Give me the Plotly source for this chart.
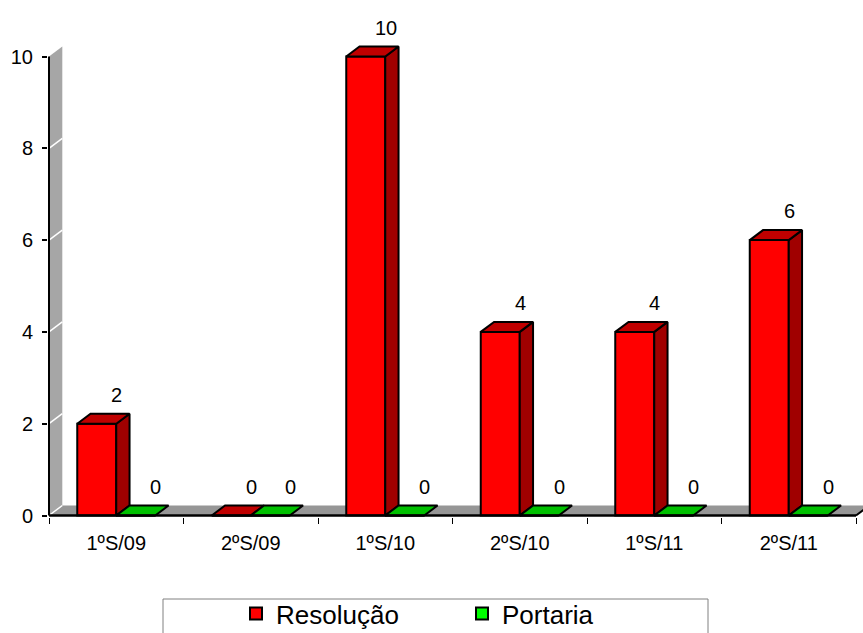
import plotly.graph_objects as go

# ---- data ----
categories = ["1ºS/09", "2ºS/09", "1ºS/10", "2ºS/10", "1ºS/11", "2ºS/11"]
resolucao = [2, 0, 10, 4, 4, 6]
portaria = [0, 0, 0, 0, 0, 0]
y_ticks = [0, 2, 4, 6, 8, 10]

# ---- geometry / styles ----
W, H = 863, 633
ML, MR, MT, MB = 48, 0, 36, 116
PX_X = 134.5          # pixels per category
PX_Y = 45.9           # pixels per unit value
DX = 13.3 / PX_X      # depth offset (x) in data units
DY = 10.0 / PX_Y      # depth offset (y) in data units
BAR_W = 0.29
FONT = "Liberation Sans, Arial, sans-serif"

plot_w = W - ML - MR
plot_h = H - MT - MB
x_start = -0.5 - 1.0 / PX_X
x_end = x_start + plot_w / PX_X
y_start = -1.5 / PX_Y
y_end = y_start + plot_h / PX_Y

series = [
    dict(name="Resolução", values=resolucao, offset=-BAR_W,
         front="#FF0000", top="#C00000", side="#A00000"),
    dict(name="Portaria", values=portaria, offset=0.0,
         front="#00FF00", top="#00C000", side="#00A000"),
]
xs = list(range(len(categories)))

fig = go.Figure()

# front faces as real bars
for s in series:
    fig.add_trace(go.Bar(
        x=xs, y=s["values"], width=BAR_W, offset=s["offset"], name=s["name"],
        marker=dict(color=s["front"], line=dict(color="black", width=2)),
        hoverinfo="skip",
    ))

# top and side faces
for s in series:
    tx, ty, sx, sy = [], [], [], []
    for xi, v in zip(xs, s["values"]):
        L = xi + s["offset"]
        R = L + BAR_W
        tx += [L, R, R + DX, L + DX, L, None]
        ty += [v, v, v + DY, v + DY, v, None]
        if v > 0:
            sx += [R, R + DX, R + DX, R, R, None]
            sy += [0, DY, v + DY, v, 0, None]
    if sx:
        fig.add_trace(go.Scatter(x=sx, y=sy, mode="lines", fill="toself",
                                 fillcolor=s["side"], line=dict(color="black", width=2),
                                 showlegend=False, hoverinfo="skip"))
    fig.add_trace(go.Scatter(x=tx, y=ty, mode="lines", fill="toself",
                             fillcolor=s["top"], line=dict(color="black", width=2),
                             showlegend=False, hoverinfo="skip"))

# data labels
for s in series:
    for xi, v in zip(xs, s["values"]):
        fig.add_annotation(x=xi + s["offset"] + BAR_W / 2, y=v, text=str(v),
                           showarrow=False, xshift=20, yshift=29, yanchor="middle",
                           font=dict(family=FONT, size=20, color="black"))

x0 = -0.5
xend = len(categories) - 0.5
ymax = y_ticks[-1]
shapes = []
# left wall
shapes.append(dict(type="path", layer="below", xref="x", yref="y",
                   path=f"M {x0},0 L {x0},{ymax} L {x0+DX},{ymax+DY} L {x0+DX},{DY} Z",
                   fillcolor="#A6A6A6", line=dict(width=0)))
# floor
shapes.append(dict(type="path", layer="below", xref="x", yref="y",
                   path=f"M {x0},0 L {xend},0 L {xend+DX},{DY} L {x0+DX},{DY} Z",
                   fillcolor="#969696", line=dict(width=0)))
# gridlines on wall
for v in y_ticks[:-1]:
    shapes.append(dict(type="line", layer="below", xref="x", yref="y",
                       x0=x0, y0=v, x1=x0 + DX, y1=v + DY,
                       line=dict(color="white", width=1.5)))
# floor right edge
shapes.append(dict(type="line", layer="above", xref="x", yref="y",
                   x0=xend, y0=0, x1=xend + DX, y1=DY, line=dict(color="black", width=2)))
# axis lines
shapes.append(dict(type="line", layer="above", xref="x", yref="y",
                   x0=x0, y0=0, x1=x0, y1=ymax, line=dict(color="black", width=2)))
shapes.append(dict(type="line", layer="above", xref="x", yref="y",
                   x0=x0, y0=0, x1=xend, y1=0, line=dict(color="black", width=2.5)))
# legend box
def px_to_paper_x(px):
    return (px - ML) / plot_w
def px_to_paper_y(py):
    return (H - MB - py) / plot_h
shapes.append(dict(type="rect", xref="paper", yref="paper",
                   x0=px_to_paper_x(163), x1=px_to_paper_x(708),
                   y0=px_to_paper_y(599), y1=px_to_paper_y(650),
                   line=dict(color="#808080", width=1), fillcolor="rgba(0,0,0,0)"))

fig.update_layout(
    width=W, height=H,
    margin=dict(l=ML, r=MR, t=MT, b=MB),
    paper_bgcolor="white", plot_bgcolor="white",
    barmode="overlay",
    font=dict(family=FONT, size=20, color="black"),
    shapes=shapes,
    showlegend=True,
    legend=dict(orientation="h", xref="container", yref="container",
                x=236 / W, y=1 - 590 / H, xanchor="left", yanchor="top",
                font=dict(family=FONT, size=26, color="black"),
                bgcolor="rgba(0,0,0,0)", borderwidth=0,
                entrywidth=181, itemsizing="constant"),
    xaxis=dict(range=[x_start, x_end], tickmode="array", tickvals=xs, ticktext=categories,
               ticks="", showgrid=False, zeroline=False, showline=False,
               ticklabelstandoff=12,
               tickfont=dict(family=FONT, size=20, color="black"),
               minor=dict(tickmode="array", tickvals=[i - 0.5 for i in range(len(categories) + 1)],
                          ticks="outside", ticklen=6, tickcolor="black", tickwidth=1,
                          showgrid=False)),
    yaxis=dict(range=[y_start, y_end], tickmode="array", tickvals=y_ticks,
               ticks="outside", ticklen=5, tickcolor="black", tickwidth=1.5,
               showgrid=False, zeroline=False, showline=False,
               ticklabelstandoff=5,
               tickfont=dict(family=FONT, size=20, color="black")),
)

fig.write_html("out.html", config={"displayModeBar": False},
               post_script="document.body.style.margin='0';")
